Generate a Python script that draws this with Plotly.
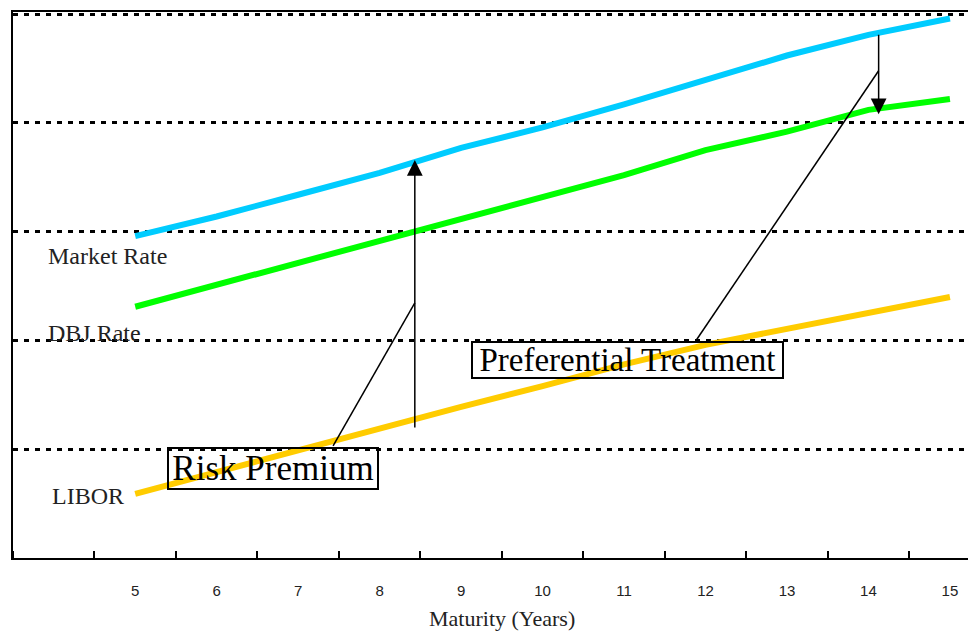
import plotly.graph_objects as go

maturity = [5, 6, 7, 8, 9, 10, 11, 12, 13, 14, 15]
market_rate = [2.96, 3.14, 3.34, 3.54, 3.77, 3.96, 4.17, 4.40, 4.62, 4.81, 4.96]
dbj_rate = [2.31, 2.51, 2.71, 2.91, 3.11, 3.31, 3.52, 3.75, 3.92, 4.12, 4.22]
libor = [0.59, 0.79, 0.99, 1.20, 1.39, 1.58, 1.78, 1.96, 2.11, 2.25, 2.40]
tick_labels = [str(v) for v in maturity]

SERIF = "Liberation Serif, Times New Roman, serif"
SANS = "Liberation Sans, Arial, sans-serif"

fig = go.Figure()
fig.add_trace(go.Scatter(x=maturity, y=market_rate, mode="lines", name="Market Rate",
                         line=dict(color="#00CCFF", width=6)))
fig.add_trace(go.Scatter(x=maturity, y=dbj_rate, mode="lines", name="DBJ Rate",
                         line=dict(color="#00FF00", width=6)))
fig.add_trace(go.Scatter(x=maturity, y=libor, mode="lines", name="LIBOR",
                         line=dict(color="#FFCC00", width=6)))

# series labels
for txt, xx, yy in [("Market Rate", 3.9, 2.78), ("DBJ Rate", 3.91, 2.07), ("LIBOR", 3.95, 0.57)]:
    fig.add_annotation(x=xx, y=yy, xref="x", yref="y", text=txt, showarrow=False,
                       xanchor="left", yanchor="middle",
                       font=dict(family=SERIF, size=24, color="#222222"))

# arrows
fig.add_annotation(x=8.432, y=3.66, ax=8.432, ay=1.186, xref="x", yref="y",
                   axref="x", ayref="y", text="", showarrow=True,
                   arrowhead=2, arrowsize=2.1, arrowwidth=1.5, arrowcolor="black")
fig.add_annotation(x=14.125, y=4.08, ax=14.125, ay=4.824, xref="x", yref="y",
                   axref="x", ayref="y", text="", showarrow=True,
                   arrowhead=2, arrowsize=2.1, arrowwidth=1.5, arrowcolor="black")

# leader lines
fig.add_shape(type="line", x0=8.432, y0=2.345, x1=7.429, y1=1.03, xref="x", yref="y",
              line=dict(color="black", width=1.5))
fig.add_shape(type="line", x0=14.125, y0=4.48, x1=11.892, y1=2.009, xref="x", yref="y",
              line=dict(color="black", width=1.5))

# boxed labels
fig.add_annotation(x=6.693, y=0.823, xref="x", yref="y", text="Risk Premium",
                   showarrow=False, width=208, height=39, borderpad=0,
                   bordercolor="black", borderwidth=2, align="center", valign="middle",
                   font=dict(family=SERIF, size=35, color="black"))
fig.add_annotation(x=11.043, y=1.82, xref="x", yref="y", text="Preferential Treatment",
                   showarrow=False, width=309, height=34, borderpad=0,
                   bordercolor="black", borderwidth=2, align="center", valign="middle",
                   font=dict(family=SERIF, size=33, color="black"))

# x axis title
fig.add_annotation(x=9.5, y=-0.1117, xref="x", yref="paper", text="Maturity (Years)",
                   showarrow=False, xanchor="center", yanchor="middle",
                   font=dict(family=SERIF, size=22, color="#222222"))

fig.update_layout(
    width=968, height=623,
    margin=dict(l=5, r=0, t=4, b=73),
    paper_bgcolor="white", plot_bgcolor="white",
    showlegend=False,
)
fig.update_xaxes(
    range=[3.5, 15.32], showgrid=False, zeroline=False,
    showline=True, linecolor="black", linewidth=2, mirror=True,
    tickvals=maturity, ticktext=tick_labels, ticks="",
    ticklabelstandoff=18,
    tickfont=dict(family=SANS, size=15, color="#222222"),
    minor=dict(tick0=4.5, dtick=1, ticks="inside", ticklen=7, tickwidth=2, tickcolor="black"),
)
fig.update_yaxes(
    range=[0, 5.02], dtick=1, showticklabels=False, ticks="",
    showgrid=True, gridcolor="black", gridwidth=2.5, griddash="5px,6px",
    zeroline=False, showline=True, linecolor="black", linewidth=2,
)

fig.write_html("out.html")
